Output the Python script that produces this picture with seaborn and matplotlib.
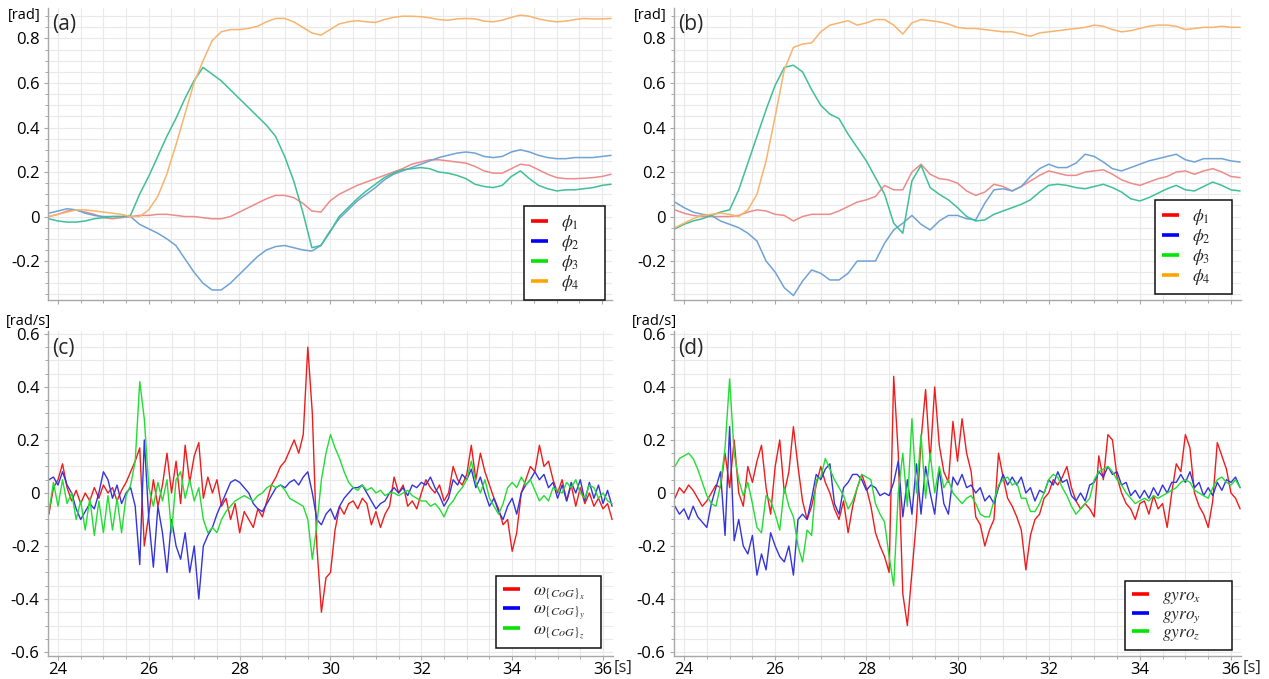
import numpy as np
import pandas as pd
import matplotlib
matplotlib.use("Agg")
import matplotlib.pyplot as plt
from matplotlib.lines import Line2D
from matplotlib.ticker import MultipleLocator, FuncFormatter
import seaborn as sns

# ---------------------------------------------------------------------------
# Sample times [s]
# ---------------------------------------------------------------------------
t_pose = np.round(23.8 + 0.2 * np.arange(63), 1)    # joint-angle log (5 Hz)
t_rate = np.round(23.8 + 0.1 * np.arange(125), 1)   # angular-rate log (10 Hz)

# ---------------------------------------------------------------------------
# (a) joint angles, run 1 [rad]
# ---------------------------------------------------------------------------
phi1_a = [0.0, 0.01, 0.025, 0.03, 0.02, 0.01, -0.005, -0.01, -0.005, 0.0,
          0.005, 0.005, 0.01, 0.01, 0.005, 0.0, 0.0, -0.005, -0.01, -0.01,
          0.0, 0.02, 0.04, 0.06, 0.08, 0.095, 0.095, 0.085, 0.06, 0.025,
          0.02, 0.07, 0.1, 0.12, 0.14, 0.155, 0.17, 0.185, 0.2, 0.215,
          0.235, 0.245, 0.255, 0.255, 0.25, 0.245, 0.24, 0.225, 0.205, 0.195,
          0.195, 0.215, 0.235, 0.23, 0.21, 0.19, 0.175, 0.17, 0.17, 0.172,
          0.175, 0.18, 0.19]
phi2_a = [0.015, 0.025, 0.035, 0.03, 0.015, 0.005, 0.0, 0.0, 0.0, 0.0,
          -0.035, -0.055, -0.075, -0.1, -0.13, -0.19, -0.25, -0.3, -0.33, -0.33,
          -0.3, -0.26, -0.22, -0.18, -0.15, -0.135, -0.13, -0.14, -0.15, -0.155,
          -0.13, -0.065, -0.01, 0.03, 0.07, 0.1, 0.13, 0.165, 0.19, 0.205,
          0.22, 0.235, 0.25, 0.265, 0.275, 0.285, 0.29, 0.285, 0.27, 0.265,
          0.27, 0.29, 0.3, 0.29, 0.275, 0.265, 0.26, 0.26, 0.265, 0.265,
          0.265, 0.27, 0.275]
phi3_a = [-0.01, -0.02, -0.025, -0.025, -0.02, -0.01, -0.005, 0.0, 0.0, 0.005,
          0.1, 0.18, 0.27, 0.36, 0.44, 0.53, 0.61, 0.67, 0.64, 0.61,
          0.57, 0.53, 0.49, 0.45, 0.41, 0.36, 0.27, 0.16, 0.02, -0.14,
          -0.13, -0.07, 0.0, 0.04, 0.08, 0.115, 0.145, 0.175, 0.195, 0.21,
          0.215, 0.22, 0.215, 0.2, 0.195, 0.185, 0.17, 0.145, 0.135, 0.13,
          0.14, 0.18, 0.205, 0.17, 0.14, 0.125, 0.115, 0.12, 0.12, 0.125,
          0.13, 0.14, 0.145]
phi4_a = [0.0, 0.01, 0.02, 0.03, 0.03, 0.025, 0.02, 0.015, 0.01, 0.0,
          0.0, 0.03, 0.09, 0.19, 0.32, 0.46, 0.6, 0.7, 0.79, 0.83,
          0.84, 0.84, 0.845, 0.855, 0.875, 0.89, 0.89, 0.875, 0.85, 0.825,
          0.815, 0.84, 0.865, 0.875, 0.88, 0.875, 0.872, 0.885, 0.895, 0.9,
          0.9, 0.898, 0.893, 0.885, 0.882, 0.888, 0.89, 0.888, 0.878, 0.875,
          0.882, 0.895, 0.905, 0.9, 0.888, 0.88, 0.875, 0.878, 0.885, 0.89,
          0.888, 0.888, 0.89]

# ---------------------------------------------------------------------------
# (b) joint angles, run 2 [rad]
# ---------------------------------------------------------------------------
phi1_b = [0.03, 0.015, 0.005, 0.0, 0.0, 0.0, 0.0, 0.005, 0.02, 0.03,
          0.025, 0.01, 0.005, -0.02, 0.0, 0.01, 0.01, 0.01, 0.025, 0.045,
          0.065, 0.075, 0.09, 0.14, 0.12, 0.12, 0.2, 0.235, 0.19, 0.17,
          0.165, 0.15, 0.115, 0.095, 0.11, 0.145, 0.135, 0.115, 0.135, 0.16,
          0.185, 0.205, 0.195, 0.185, 0.185, 0.2, 0.205, 0.21, 0.19, 0.165,
          0.15, 0.14, 0.155, 0.17, 0.18, 0.2, 0.205, 0.19, 0.205, 0.215,
          0.2, 0.18, 0.175]
phi2_b = [0.065, 0.04, 0.02, 0.01, 0.005, -0.02, -0.035, -0.05, -0.075, -0.11,
          -0.2, -0.25, -0.32, -0.355, -0.29, -0.24, -0.255, -0.285, -0.285, -0.255,
          -0.2, -0.2, -0.2, -0.12, -0.06, -0.03, 0.005, -0.035, -0.06, -0.02,
          0.005, 0.005, -0.01, -0.015, 0.06, 0.12, 0.125, 0.115, 0.135, 0.18,
          0.215, 0.235, 0.22, 0.22, 0.24, 0.28, 0.27, 0.245, 0.215, 0.205,
          0.22, 0.235, 0.25, 0.26, 0.27, 0.28, 0.255, 0.245, 0.26, 0.26,
          0.26, 0.25, 0.245]
phi3_b = [-0.055, -0.035, -0.02, -0.01, 0.005, 0.02, 0.03, 0.12, 0.24, 0.36,
          0.48, 0.59, 0.67, 0.68, 0.65, 0.57, 0.5, 0.46, 0.44, 0.37,
          0.31, 0.25, 0.175, 0.1, -0.03, -0.075, 0.16, 0.23, 0.13, 0.1,
          0.075, 0.04, 0.0, -0.02, -0.015, 0.01, 0.025, 0.04, 0.055, 0.075,
          0.11, 0.14, 0.145, 0.14, 0.13, 0.125, 0.135, 0.145, 0.13, 0.11,
          0.08, 0.07, 0.085, 0.105, 0.125, 0.14, 0.12, 0.115, 0.135, 0.155,
          0.14, 0.12, 0.115]
phi4_b = [-0.05, -0.03, -0.01, 0.005, 0.01, 0.015, 0.01, 0.0, 0.03, 0.1,
          0.25, 0.45, 0.66, 0.76, 0.775, 0.78, 0.83, 0.86, 0.87, 0.88,
          0.86, 0.87, 0.885, 0.885, 0.86, 0.82, 0.87, 0.885, 0.88, 0.875,
          0.865, 0.85, 0.845, 0.845, 0.84, 0.835, 0.83, 0.83, 0.82, 0.81,
          0.825, 0.83, 0.835, 0.84, 0.845, 0.85, 0.86, 0.855, 0.84, 0.83,
          0.835, 0.845, 0.855, 0.86, 0.86, 0.855, 0.84, 0.845, 0.85, 0.85,
          0.855, 0.85, 0.85]

# ---------------------------------------------------------------------------
# (c) angular rate of the centre of gravity [rad/s]
# ---------------------------------------------------------------------------
wx_c = [-0.08, 0.02, 0.05, 0.11, 0.02, -0.03, 0.01, -0.04, 0.0, -0.03,
        0.02, -0.02, 0.03, 0.0, 0.02, -0.03, 0.01, 0.04, 0.08, 0.12,
        0.17, -0.2, -0.08, 0.05, -0.05, 0.03, 0.15, 0.0, 0.12, -0.04,
        0.18, 0.04, 0.14, 0.19, -0.02, 0.06, 0.0, 0.05, -0.05, -0.02,
        -0.1, -0.04, -0.15, -0.07, -0.1, -0.13, -0.06, -0.09, -0.03, 0.03,
        0.06, 0.1, 0.12, 0.16, 0.2, 0.15, 0.22, 0.55, 0.3, -0.2,
        -0.45, -0.32, -0.3, -0.14, -0.05, -0.08, -0.04, -0.03, -0.06, -0.02,
        -0.04, -0.12, -0.07, -0.13, -0.08, -0.05, 0.06, 0.0, 0.03, -0.05,
        -0.03, -0.06, 0.0, 0.05, 0.02, 0.0, 0.03, -0.03, 0.0, 0.1,
        0.05, 0.03, 0.07, 0.18, 0.05, 0.15, 0.08, 0.03, -0.02, -0.06,
        -0.12, -0.1, -0.22, -0.15, 0.0, 0.05, 0.1, 0.08, 0.18, 0.1,
        0.12, 0.05, 0.0, 0.05, -0.03, 0.03, -0.05, 0.02, -0.04, 0.0,
        -0.05, -0.02, -0.06, -0.04, -0.1]
wy_c = [0.05, 0.06, 0.03, 0.08, 0.03, 0.0, -0.06, -0.1, -0.07, -0.04,
        -0.06, 0.0, 0.08, 0.05, -0.02, 0.03, -0.04, 0.0, 0.02, -0.05,
        -0.27, 0.2, -0.1, -0.28, -0.05, -0.15, -0.3, -0.1, -0.2, -0.25,
        -0.15, -0.3, -0.2, -0.4, -0.2, -0.16, -0.13, -0.08, -0.04, 0.0,
        0.04, 0.05, 0.04, 0.02, 0.0, -0.04, -0.06, -0.07, -0.04, -0.01,
        0.02, 0.03, 0.02, 0.04, 0.05, 0.03, 0.06, 0.08, 0.0, -0.1,
        -0.12, -0.08, -0.06, -0.1, -0.05, -0.02, 0.0, 0.02, 0.02, 0.03,
        0.0, -0.03, -0.06, -0.04, -0.03, 0.0, 0.02, 0.0, 0.02, -0.01,
        0.03, 0.02, 0.04, 0.03, 0.06, 0.02, -0.01, -0.05, -0.02, 0.05,
        0.03, 0.07, 0.05, 0.09, 0.02, 0.06, 0.0, -0.05, -0.02, -0.07,
        -0.1, -0.05, -0.02, -0.08, 0.0, 0.03, 0.05, 0.08, 0.05, 0.07,
        0.02, 0.04, -0.02, 0.03, -0.03, 0.04, 0.0, 0.05, -0.03, 0.04,
        -0.02, 0.03, -0.04, 0.01, -0.05]
wz_c = [-0.07, 0.04, -0.05, 0.05, -0.04, 0.0, -0.1, -0.03, -0.14, -0.02,
        -0.16, -0.03, -0.15, -0.01, -0.14, -0.02, -0.15, -0.01, 0.03, 0.12,
        0.42, 0.28, 0.02, -0.05, 0.04, -0.03, 0.05, -0.15, 0.05, 0.08,
        -0.02, 0.05, -0.03, 0.02, -0.1, -0.15, -0.13, -0.15, -0.1, -0.07,
        -0.05, -0.03, -0.02, -0.01, -0.02, -0.03, -0.01, 0.0, 0.02, 0.03,
        0.02, 0.03, 0.01, -0.02, -0.03, -0.04, -0.05, -0.1, -0.25, -0.12,
        0.05, 0.15, 0.22, 0.17, 0.13, 0.08, 0.04, 0.02, 0.01, 0.03,
        0.01, 0.02, 0.0, 0.01, -0.01, 0.0, 0.0, -0.01, 0.0, 0.01,
        -0.01, -0.02, -0.03, -0.03, -0.05, -0.04, -0.06, -0.09, -0.05, -0.03,
        0.0, 0.02, 0.05, 0.12, 0.04, 0.0, 0.05, -0.02, -0.05, -0.08,
        -0.04, 0.02, 0.04, 0.02, 0.06, 0.03, 0.05, 0.01, -0.03, -0.01,
        -0.03, 0.02, 0.01, 0.0, 0.04, 0.02, 0.05, 0.0, -0.02, 0.03,
        0.02, -0.02, 0.0, -0.03, -0.04]

# ---------------------------------------------------------------------------
# (d) gyroscope readings [rad/s]
# ---------------------------------------------------------------------------
gx_d = [-0.02, 0.02, 0.0, 0.03, 0.01, -0.02, -0.05, -0.03, 0.0, 0.03,
        0.02, 0.15, 0.02, 0.2, 0.0, -0.05, 0.1, 0.04, 0.12, 0.18,
        0.02, -0.08, 0.1, 0.2, 0.0, 0.08, 0.25, 0.1, -0.03, -0.1,
        -0.05, 0.03, 0.1, 0.04, 0.0, -0.06, -0.1, -0.03, -0.15, -0.05,
        0.02, 0.07, 0.02, -0.05, -0.15, -0.2, -0.24, -0.3, 0.44, 0.15,
        -0.38, -0.5, -0.3, -0.1, 0.2, 0.39, 0.12, 0.4, 0.18, 0.08,
        0.04, 0.27, 0.12, 0.28, 0.15, 0.08, -0.09, -0.12, -0.2, -0.14,
        -0.1, 0.15, 0.06, -0.02, -0.05, -0.09, -0.14, -0.29, -0.16, -0.1,
        -0.08, -0.02, 0.0, 0.05, 0.03, 0.06, 0.1, 0.02, -0.03, -0.06,
        -0.04, -0.06, -0.09, 0.14, 0.05, 0.22, 0.2, 0.06, 0.0, -0.04,
        -0.06, -0.1, -0.04, -0.03, -0.08, -0.01, -0.06, -0.04, -0.13, 0.0,
        0.11, 0.08, 0.22, 0.17, 0.0, -0.05, -0.08, -0.13, -0.03, 0.19,
        0.14, 0.09, 0.0, -0.02, -0.06]
gy_d = [-0.05, -0.08, -0.06, -0.1, -0.05, -0.09, -0.11, -0.13, -0.04, 0.02,
        0.08, -0.16, 0.25, -0.18, -0.1, -0.2, -0.23, -0.16, -0.31, -0.23,
        -0.29, -0.15, -0.2, -0.24, -0.26, -0.2, -0.31, -0.1, -0.08, -0.1,
        -0.02, 0.07, 0.05, 0.09, 0.11, -0.04, -0.08, 0.02, 0.04, 0.07,
        0.07, 0.05, 0.01, 0.03, 0.02, -0.01, 0.0, -0.01, 0.04, 0.12,
        -0.09, 0.05, -0.08, 0.11, -0.08, 0.1, 0.0, -0.08, 0.09, -0.04,
        -0.08, 0.06, 0.03, 0.07, 0.02, 0.03, 0.0, 0.02, -0.03, -0.01,
        -0.04, 0.02, 0.07, 0.03, 0.06, 0.03, 0.06, 0.0, 0.02, -0.03,
        0.01, 0.0, 0.05, 0.03, 0.08, 0.04, 0.05, -0.01, -0.03, 0.0,
        -0.03, 0.03, 0.04, 0.08, 0.06, 0.1, 0.07, 0.08, 0.03, 0.04,
        -0.01, 0.01, -0.02, 0.01, -0.02, 0.02, -0.01, 0.03, 0.0, 0.04,
        0.04, 0.07, 0.04, 0.08, 0.02, 0.04, -0.01, 0.02, -0.01, 0.04,
        0.01, 0.05, 0.04, 0.06, 0.02]
gz_d = [0.1, 0.13, 0.14, 0.15, 0.13, 0.09, 0.04, -0.01, -0.04, -0.05,
        0.03, 0.17, 0.43, 0.15, 0.05, -0.01, 0.04, -0.04, -0.13, -0.15,
        -0.01, -0.03, -0.08, -0.14, 0.02, -0.05, -0.09, -0.2, -0.26, -0.14,
        -0.16, 0.05, 0.06, 0.13, 0.09, 0.05, 0.02, -0.01, -0.06, -0.03,
        0.02, 0.07, 0.06, 0.05, -0.04, -0.08, -0.11, -0.24, -0.35, 0.0,
        0.15, -0.05, 0.28, 0.0, 0.22, -0.02, 0.15, 0.0, 0.1, 0.02,
        0.05, 0.0, -0.02, -0.04, -0.02, -0.01, -0.04, -0.08, -0.09, -0.09,
        -0.03, 0.03, 0.05, 0.06, 0.03, 0.04, -0.02, -0.02, -0.07, -0.07,
        -0.04, 0.0, 0.05, 0.07, 0.06, 0.02, -0.01, -0.05, -0.08, -0.06,
        -0.04, -0.02, 0.05, 0.08, 0.09, 0.1, 0.08, 0.05, 0.03, 0.0,
        -0.02, -0.04, -0.03, -0.02, -0.03, -0.01, -0.02, -0.01, 0.0, 0.01,
        0.02, 0.04, 0.05, 0.04, 0.01, 0.0, -0.01, -0.02, 0.02, 0.05,
        0.06, 0.04, 0.03, 0.05, 0.02]

# ---------------------------------------------------------------------------
# Labels and colours
# ---------------------------------------------------------------------------
phi_labels = [r"$\phi_1$", r"$\phi_2$", r"$\phi_3$", r"$\phi_4$"]
omega_labels = [r"$\omega_{\{CoG\}_x}$", r"$\omega_{\{CoG\}_y}$", r"$\omega_{\{CoG\}_z}$"]
gyro_labels = [r"$gyro_x$", r"$gyro_y$", r"$gyro_z$"]
panel_tags = ["(a)", "(b)", "(c)", "(d)"]

key_colors = ["#ff0000", "#0000ff", "#00e600", "#ffa500"]      # legend keys
angle_colors = ["#ec8c8a", "#6fa3d6", "#3fbf98", "#f7b46e"]     # pale angle traces
rate_colors = ["#f01c1c", "#3434dc", "#22dd33"]                 # rate traces

sns.set_theme(style="white")
plt.rcParams["font.family"] = ["Open Sans", "DejaVu Sans"]
plt.rcParams["mathtext.fontset"] = "stix"

W, H = 1269, 679
fig = plt.figure(figsize=(W / 100, H / 100), dpi=100)
fig.patch.set_facecolor("white")


def box(x0, y0, x1, y1):
    """Pixel box (top-left origin) -> figure-fraction rect."""
    return [x0 / W, 1 - y1 / H, (x1 - x0) / W, (y1 - y0) / H]


ax_a = fig.add_axes(box(48, 8, 612, 300))
ax_b = fig.add_axes(box(674, 8, 1241, 300))
ax_c = fig.add_axes(box(48, 331, 613, 656))
ax_d = fig.add_axes(box(674, 331, 1241, 656))


def long_frame(t, labels, series):
    return pd.concat(
        [pd.DataFrame({"t": t, "value": np.asarray(v, float), "signal": lab})
         for lab, v in zip(labels, series)],
        ignore_index=True,
    )


def zero_fmt(v, _):
    return "0" if abs(v) < 1e-9 else f"{v:.1f}"


def style_axes(ax, ylim, show_xlabels):
    ax.set_xlim(23.78, 36.22)
    ax.set_ylim(*ylim)
    ax.xaxis.set_major_locator(MultipleLocator(2))
    ax.xaxis.set_minor_locator(MultipleLocator(0.5))
    ax.yaxis.set_major_locator(MultipleLocator(0.2))
    ax.yaxis.set_minor_locator(MultipleLocator(0.05))
    ax.yaxis.set_major_formatter(FuncFormatter(zero_fmt))
    ax.grid(which="both", color="#e9e9e9", linewidth=0.8)
    ax.set_axisbelow(True)
    for side in ("top", "right"):
        ax.spines[side].set_visible(False)
    for side in ("left", "bottom"):
        ax.spines[side].set_color("#a8a8a8")
        ax.spines[side].set_linewidth(1.0)
    ax.tick_params(which="both", direction="out", color="#a8a8a8",
                   left=True, bottom=True, labelsize=12, labelcolor="black")
    ax.tick_params(which="major", length=3, width=0.8)
    ax.tick_params(which="minor", length=2.5, width=0.7)
    ax.tick_params(axis="y", which="major", pad=3)
    ax.tick_params(axis="x", which="major", pad=1, labelbottom=show_xlabels)
    ax.set_xlabel("")
    ax.set_ylabel("")


def draw(ax, t, labels, series, colors, lw, ylim, show_xlabels, tag,
         legend_box):
    df = long_frame(t, labels, series)
    sns.lineplot(data=df, x="t", y="value", hue="signal", hue_order=labels,
                 palette=dict(zip(labels, colors)), estimator=None, sort=False,
                 linewidth=lw, legend=False, ax=ax)
    style_axes(ax, ylim, show_xlabels)
    ax.text(0.007, 0.978, tag, transform=ax.transAxes, ha="left", va="top",
            fontsize=15)
    handles = [Line2D([0], [0], color=c, lw=2.6, solid_capstyle="butt")
               for c in key_colors[:len(labels)]]
    # legend frame spans a fixed width box in the lower-right corner
    leg = ax.legend(handles, labels, loc="lower left", mode="expand",
                    bbox_to_anchor=legend_box, borderaxespad=0.0,
                    fontsize=12.5, frameon=True, fancybox=False,
                    framealpha=1.0, edgecolor="#111111", handlelength=1.0,
                    handletextpad=0.75, labelspacing=0.0, borderpad=0.4)
    leg.get_frame().set_linewidth(1.1)


angle_ylim = (-0.375, 0.937)
rate_ylim = (-0.615, 0.611)

draw(ax_a, t_pose, phi_labels, [phi1_a, phi2_a, phi3_a, phi4_a], angle_colors,
     1.1, angle_ylim, False, panel_tags[0], (0.844, 0.0, 0.144, 0.3))
draw(ax_b, t_pose, phi_labels, [phi1_b, phi2_b, phi3_b, phi4_b], angle_colors,
     1.1, angle_ylim, False, panel_tags[1], (0.848, 0.02, 0.136, 0.3))
draw(ax_c, t_rate, omega_labels, [wx_c, wy_c, wz_c], rate_colors,
     1.0, rate_ylim, True, panel_tags[2], (0.793, 0.025, 0.186, 0.2))
draw(ax_d, t_rate, gyro_labels, [gx_d, gy_d, gz_d], rate_colors,
     1.0, rate_ylim, True, panel_tags[3], (0.795, 0.018, 0.189, 0.2))

# unit annotations
unit_kw = dict(fontsize=10.5, va="center", ha="left", color="black")
fig.text(8 / W, 1 - 16 / H, "[rad]", **unit_kw)
fig.text(634 / W, 1 - 16 / H, "[rad]", **unit_kw)
fig.text(6 / W, 1 - 321 / H, "[rad/s]", **unit_kw)
fig.text(632 / W, 1 - 321 / H, "[rad/s]", **unit_kw)
fig.text(614 / W, 1 - 668 / H, "[s]", fontsize=12, va="center", ha="left")
fig.text(1243 / W, 1 - 668 / H, "[s]", fontsize=12, va="center", ha="left")

fig.savefig("out.png", dpi=100, facecolor="white")
